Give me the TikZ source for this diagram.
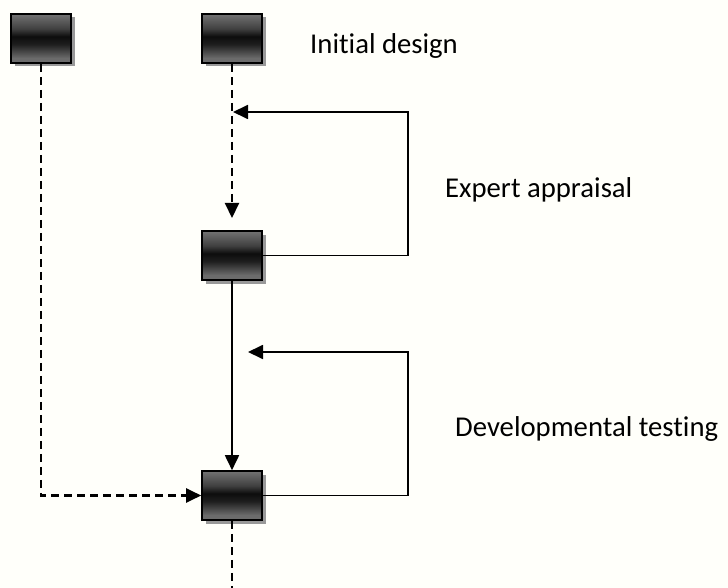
\documentclass[tikz,border=0pt]{standalone}
\usepackage{fontspec}
\setmainfont{Carlito}[Ligatures=CommonOff]
\usetikzlibrary{arrows.meta,shadows}

% dark metallic fill of the stage boxes (bottom to top)
\pgfdeclareverticalshading{stageshade}{100bp}{%
  color(0bp)=(black!62);
  color(12bp)=(black!55);
  color(30bp)=(black!58);
  color(44bp)=(black!88);
  color(52bp)=(black!95);
  color(60bp)=(black!75);
  color(75bp)=(black!55);
  color(90bp)=(black!58);
  color(100bp)=(black!70)}

\tikzset{
  stagebox/.style={draw=black, line width=1.6pt, minimum width=60pt,
    minimum height=49pt, inner sep=0pt, shading=stageshade,
    drop shadow={shadow xshift=3.5pt, shadow yshift=-3.5pt, fill=black!40, opacity=1}},
  flow/.style={line width=1.8pt, -{Triangle[length=15pt,width=14pt]}},
  dashed line/.style={line width=2.1pt, dash pattern=on 8pt off 5pt},
  dashflow/.style={flow, dashed line},
  label/.style={anchor=base west, inner sep=0pt, font=\fontsize{28.7pt}{30pt}\selectfont}
}

\begin{document}
\begin{tikzpicture}[x=1pt, y=-1pt]
  \fill[white!98!yellow] (0,0) rectangle (728,588);
  \useasboundingbox (0,0) rectangle (728,588);

  % stage boxes
  \node[stagebox] (b1) at (41,38.5) {};
  \node[stagebox] (b2) at (232,38.5) {};
  \node[stagebox] (b3) at (232,255.5) {};
  \node[stagebox] (b4) at (232,495.5) {};

  % free ends and corners of the connectors
  \coordinate (d2) at (232,218);
  \coordinate (r1) at (408,112);
  \coordinate (t1) at (233,112);
  \coordinate (r2) at (408,352);
  \coordinate (t2) at (248,352);
  \coordinate (out) at (232,590);

  % initial design to first revision
  \draw[dashflow] (b2.south) -- (d2);
  % expert appraisal loop
  \draw[flow] (b3.east) -| (r1) -- (t1);
  % first revision to final version
  \draw[flow] (b3.south) -- (b4.north);
  % developmental testing loop
  \draw[flow] (b4.east) -| (r2) -- (t2);
  % side path straight to the final version
  \draw[dashflow] (b1.south) |- (b4.west);
  % continuation below
  \draw[dashed line] (b4.south) -- (out);

  % labels
  \node[label] (l1) at (310,54) {Initial design};
  \node[label] (l2) at (445,197) {Expert appraisal};
  \node[label] (l3) at (455,436) {Developmental testing};
\end{tikzpicture}
\end{document}
